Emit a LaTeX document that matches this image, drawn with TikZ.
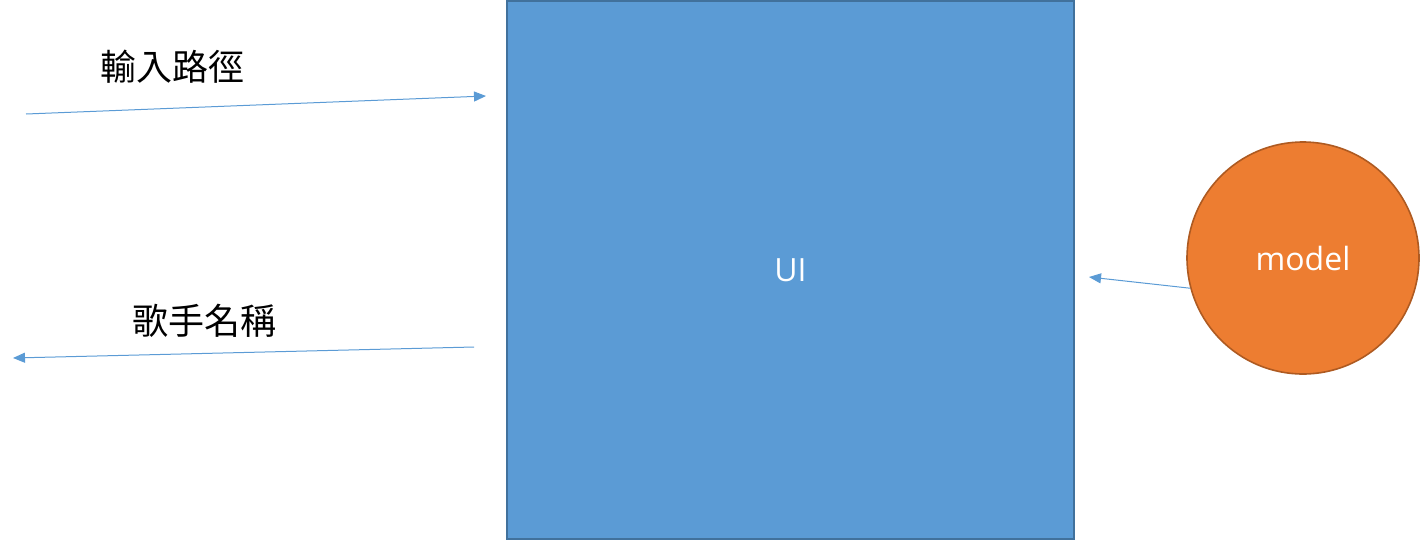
\documentclass[tikz,border=0pt]{standalone}
\usepackage{fontspec}
\setmainfont{Open Sans}
\newfontfamily\cjk{Noto Sans CJK TC}
\usetikzlibrary{arrows.meta}
\definecolor{uiblue}{HTML}{5B9BD5}
\definecolor{uiborder}{HTML}{41719C}
\definecolor{morange}{HTML}{ED7D31}
\definecolor{mborder}{HTML}{AE5A21}
\begin{document}
\begin{tikzpicture}[x=0.75pt,y=-0.75pt,
  flow/.style={draw=uiblue,line width=0.75pt,-{Triangle[length=9pt,width=7.5pt]}},
  cjklabel/.style={font=\cjk\fontsize{27}{30}\selectfont,inner sep=0pt},
  shapelabel/.style={text=white,font=\fontsize{24}{28}\selectfont}]
\useasboundingbox (0,0) rectangle (1420,540);
\node[draw=uiborder,line width=1.5pt,fill=uiblue,minimum width=425pt,minimum height=403pt,inner sep=0pt,shapelabel] (ui) at (790.5,270) {UI};
\node[circle,draw=mborder,line width=1.2pt,fill=morange,minimum size=174pt,inner sep=0pt,shapelabel] (m) at (1303,258) {model};
\node[cjklabel] (t1) at (172,67) {輸入路徑};
\node[cjklabel] (t2) at (204,321) {歌手名稱};
\coordinate (a1) at (26,114);
\coordinate (a2) at (486,96);
\coordinate (b1) at (474,347);
\coordinate (b2) at (13,358);
\coordinate (c2) at (1089,277);
\draw[flow] (a1) -- (a2);
\draw[flow] (b1) -- (b2);
\draw[flow] (m.195) -- (c2);
\end{tikzpicture}
\end{document}
